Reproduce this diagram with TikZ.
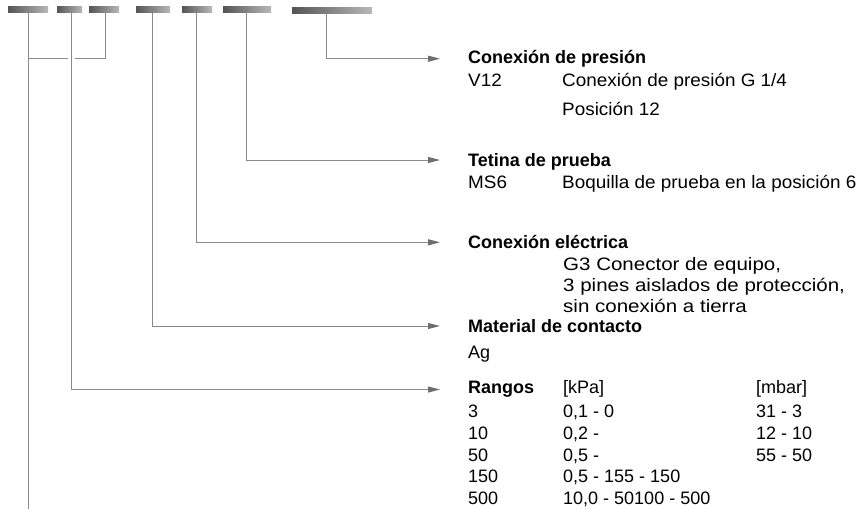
\documentclass[tikz,border=0pt]{standalone}
\usepackage{fontspec}
\setmainfont{Liberation Sans}
\newfontfamily\widefont[FakeStretch=1.05]{Liberation Sans}
\newfontfamily\widerfont[FakeStretch=1.14]{Liberation Sans}
\usetikzlibrary{arrows.meta}
\definecolor{barL}{HTML}{555555}
\definecolor{barR}{HTML}{B8B8B8}
\definecolor{lineC}{HTML}{8A8A8A}
\definecolor{arrC}{HTML}{6E6E6E}
\begin{document}
\begin{tikzpicture}[x=1pt,y=-1pt,
  bar/.style={left color=barL, right color=barR, draw=none, inner sep=0pt, minimum height=6pt},
  conn/.style={draw=lineC, line width=1pt},
  arr/.style={conn, -{Triangle[length=12pt,width=6pt,color=arrC]}},
  lbl/.style={anchor=base west, inner sep=0pt, font=\fontsize{18}{21.7}\selectfont},
  wlbl/.style={lbl, font=\fontsize{18}{21.7}\widefont},
  wwlbl/.style={lbl, font=\fontsize{18}{21.7}\widerfont},
  ttl/.style={lbl, font=\fontsize{18}{21.7}\selectfont\bfseries}]
\useasboundingbox (0,0) rectangle (862,509);
% bars
\node[bar, minimum width=40pt] (b1) at (28,9.7) {};
\node[bar, minimum width=25pt] (b2) at (69.5,9.7) {};
\node[bar, minimum width=30pt] (b3) at (104,9.7) {};
\node[bar, minimum width=34pt] (b4) at (153,9.7) {};
\node[bar, minimum width=30pt] (b5) at (197,9.7) {};
\node[bar, minimum width=48pt] (b6) at (247,9.7) {};
\node[bar, minimum width=80pt] (b7) at (332,10.8) {};
% line tops
\coordinate (v1) at (28.5,12.7);
\coordinate (v2) at (71.5,12.7);
\coordinate (v3) at (105.5,12.7);
\coordinate (v4) at (152.5,12.7);
\coordinate (v5) at (196.5,12.7);
\coordinate (v6) at (246.7,12.7);
\coordinate (v7) at (326.7,13.8);
% arrow tips
\coordinate (e7) at (440,58.7);
\coordinate (e6) at (440,160);
\coordinate (e5) at (440,242.3);
\coordinate (e4) at (440,326);
\coordinate (e2) at (440,389.5);
\coordinate (bot) at (28.5,509);
\coordinate (j1) at (28.5,58.7);
\coordinate (g1) at (68,58.7);
\coordinate (g2) at (75,58.7);
% connectors
\draw[arr] (v7) |- (e7);
\draw[arr] (v6) |- (e6);
\draw[arr] (v5) |- (e5);
\draw[arr] (v4) |- (e4);
\draw[arr] (v2) |- (e2);
\draw[conn] (v1) -- (bot);
\draw[conn] (j1) -- (g1);
\draw[conn] (g2) -| (v3);
% texts
\node[ttl] (t1) at (468,63) {Conexión de presión};
\node[wlbl] (t1a) at (468,86) {V12};
\node[wlbl] (t1b) at (562,86) {Conexión de presión G 1/4};
\node[wlbl] (t1c) at (562,115) {Posición 12};
\node[ttl] (t2) at (468,166.7) {Tetina de prueba};
\node[wlbl] (t2a) at (468,188.3) {MS6};
\node[wlbl] (t2b) at (562,188.3) {Boquilla de prueba en la posición 6};
\node[ttl] (t3) at (468,248) {Conexión eléctrica};
\node[wwlbl] (t3a) at (563,270) {G3 Conector de equipo,};
\node[wwlbl] (t3b) at (563,291) {3 pines aislados de protección,};
\node[wwlbl] (t3c) at (563,312) {sin conexión a tierra};
\node[ttl] (t4) at (468,332.7) {Material de contacto};
\node[lbl] (t4a) at (468,358) {Ag};
\node[ttl] (t5) at (468,393.5) {Rangos};
\node[lbl] (t5k) at (563,393.5) {[kPa]};
\node[lbl] (t5m) at (756,393.5) {[mbar]};
\node[lbl] (r1a) at (468,417.5) {3};
\node[lbl] (r1b) at (563,417.5) {0,1 - 0};
\node[lbl] (r1c) at (756,417.5) {31 - 3};
\node[lbl] (r2a) at (468,439.5) {10};
\node[lbl] (r2b) at (563,439.5) {0,2 -};
\node[lbl] (r2c) at (756,439.5) {12 - 10};
\node[lbl] (r3a) at (468,461) {50};
\node[lbl] (r3b) at (563,461) {0,5 -};
\node[lbl] (r3c) at (756,461) {55 - 50};
\node[lbl] (r4a) at (468,482.7) {150};
\node[lbl] (r4b) at (563,482.7) {0,5 - 155 - 150};
\node[lbl] (r5a) at (468,504.5) {500};
\node[lbl] (r5b) at (563,504.5) {10,0 - 50100 - 500};
\end{tikzpicture}
\end{document}
